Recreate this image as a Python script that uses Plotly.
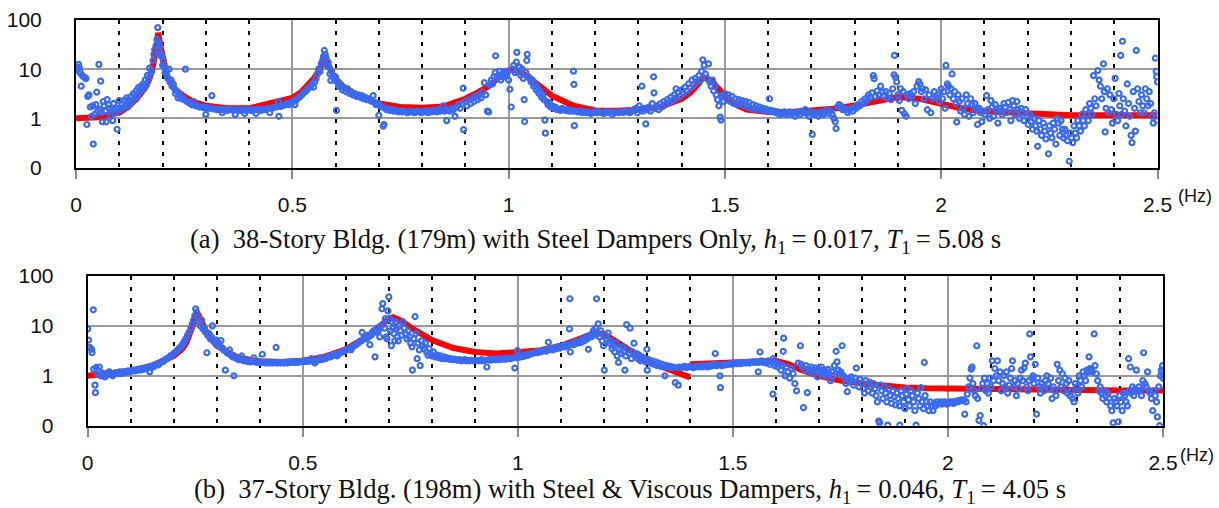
import plotly.graph_objects as go

# ---------------- Panel (a) : 38-story, steel dampers only ----------------
red_a_freq = [0, 0.05, 0.1, 0.12, 0.14, 0.15, 0.16, 0.17, 0.175, 0.18, 0.185, 0.19, 0.195, 0.2, 0.205, 0.21,
              0.22, 0.23, 0.25, 0.27, 0.3, 0.35, 0.4, 0.45, 0.5, 0.52, 0.54, 0.55, 0.56, 0.565, 0.57, 0.575,
              0.58, 0.585, 0.59, 0.6, 0.62, 0.65, 0.7, 0.75, 0.8, 0.85, 0.88, 0.9, 0.93, 0.95, 0.97, 0.99,
              1.0, 1.01, 1.02, 1.03, 1.05, 1.07, 1.1, 1.15, 1.2, 1.25, 1.3, 1.35, 1.38, 1.4, 1.42, 1.43,
              1.44, 1.45, 1.46, 1.47, 1.48, 1.5, 1.53, 1.55, 1.6, 1.65, 1.7, 1.75, 1.8, 1.85, 1.9, 1.95,
              2.0, 2.05, 2.1, 2.2, 2.3, 2.4, 2.5]
red_a_amp = [1.0, 1.05, 1.3, 1.7, 2.5, 3.2, 4.2, 6.5, 9, 14, 25, 55, 30, 18, 11, 7.5,
             5, 3.8, 2.8, 2.2, 1.8, 1.6, 1.6, 2.0, 2.6, 3.4, 5.0, 6.5, 9, 11, 14, 16,
             14, 11, 9, 6.4, 4.2, 2.9, 2.0, 1.7, 1.65, 1.75, 2.1, 2.5, 3.4, 4.3, 6, 8.5,
             9.4, 10, 9.5, 8.5, 6.4, 4.5, 2.9, 1.8, 1.45, 1.42, 1.5, 1.7, 2.1, 2.5, 3.3, 4.0,
             5.2, 6.9, 6.5, 5.9, 4.5, 2.9, 1.8, 1.5, 1.35, 1.35, 1.45, 1.57, 1.83, 2.3, 2.7, 2.5,
             2.0, 1.57, 1.4, 1.24, 1.15, 1.15, 1.15]

blue_a_low = [(0.000,10),(0.002,9.5),(0.004,11),(0.006,12.5),(0.008,10.5),(0.010,8.5),(0.012,4.5),(0.014,7.5),
 (0.017,7),(0.020,6.8),(0.023,6.5),(0.025,0.75),(0.027,2.8),(0.030,3.0),(0.033,1.7),(0.036,1.1),(0.039,1.8),
 (0.040,0.3),(0.043,1.2),(0.046,1.9),(0.048,3.4),(0.050,1.4),(0.053,12.5),(0.055,1.5),(0.057,5.7),(0.059,1.3),
 (0.061,0.85),(0.063,2.2),(0.065,1.8),(0.068,1.4),(0.070,0.85),(0.072,2.4),(0.075,1.9),(0.077,1.6),(0.080,1.1),
 (0.082,1.4),(0.085,0.9),(0.087,2.0),(0.090,1.5),(0.092,1.3),(0.095,0.6),(0.097,1.6),(0.100,2.3),(0.103,1.5),
 (0.106,2.0),(0.108,1.6),(0.111,2.3),(0.114,1.8),(0.117,2.6),(0.120,1.7),(0.122,2.4),(0.125,2.0),(0.128,2.8),
 (0.130,2.2),(0.133,3.2),(0.136,2.6),(0.139,3.6),(0.141,2.8),(0.144,4.2),(0.147,3.4),(0.150,4.5),(0.152,3.8),
 (0.155,5.0),(0.158,4.3),(0.160,6.0),(0.163,4.8),(0.165,7.5),(0.168,6.5),(0.170,10.5),(0.172,8),(0.175,9),
 (0.178,15),(0.180,20),(0.182,25),(0.185,30),(0.187,40),(0.189,70),(0.190,35),(0.192,25),(0.194,30),(0.196,20),
 (0.198,18),(0.200,12),(0.202,15),(0.204,11),(0.206,8.5),(0.208,9),(0.210,7.5),(0.212,6.5),(0.215,10),(0.217,5.5),
 (0.220,6),(0.222,4.5),(0.225,5),(0.228,4.0),(0.230,3.2),(0.233,3.6),(0.236,2.6),(0.238,3.2),(0.241,2.8),
 (0.244,2.5),(0.247,2.6),(0.250,2.4),(0.253,10),(0.256,2.2),(0.260,2.1),(0.264,2.0),(0.268,1.9),(0.272,2.2),
 (0.276,1.8),(0.280,1.8),(0.285,1.7),(0.290,1.7),(0.295,1.65),(0.300,1.2),(0.302,1.65),(0.306,1.6),(0.310,1.6),
 (0.314,2.9),(0.318,1.55),(0.322,1.55),(0.326,1.5),(0.330,1.55),(0.335,1.5),(0.338,1.3),(0.342,1.5),(0.346,1.5),
 (0.350,1.45),(0.355,1.5),(0.360,1.5),(0.364,1.45),(0.368,1.2),(0.372,1.5),(0.376,1.45),(0.380,1.45),(0.385,1.5),
 (0.390,1.25),(0.393,1.45),(0.397,1.5),(0.400,1.5),(0.404,1.45),(0.408,1.45),(0.412,1.5),(0.416,1.25),(0.420,1.5),
 (0.424,1.5),(0.428,1.45),(0.432,1.55),(0.436,1.5),(0.440,1.55),(0.444,1.6),(0.448,1.3),(0.452,1.6),(0.456,1.65),
 (0.460,1.7),(0.464,1.7),(0.468,2.2),(0.469,1.1),(0.472,1.75),(0.476,1.8),(0.480,1.85),(0.484,1.9),(0.488,2.0),
 (0.492,1.9),(0.496,2.1),(0.500,2.1)]

blue_a_mid = [(0.503,2.3),(0.506,1.9),(0.510,2.4),(0.514,2.6),(0.518,2.8),(0.522,3.0),(0.526,3.3),(0.530,3.5),
 (0.534,3.8),(0.538,4.2),(0.542,4.5),(0.546,5.0),(0.549,4.3),(0.552,5.5),(0.555,6.5),(0.558,8),(0.561,10),(0.564,9),
 (0.567,13),(0.570,15),(0.572,18),(0.574,24),(0.576,20),(0.578,17),(0.580,12),(0.583,14),(0.585,11),(0.587,8),
 (0.589,5.9),(0.591,9),(0.594,7),(0.597,6),(0.600,7),(0.602,1.45),(0.604,5.5),(0.607,4.5),(0.610,5),(0.613,4.5),
 (0.616,3.8),(0.620,4.2),(0.624,3.5),(0.628,4.0),(0.632,3.2),(0.636,3.5),(0.640,3.0),(0.644,3.2),(0.648,2.8),
 (0.652,3.0),(0.656,2.7),(0.660,2.9),(0.664,2.5),(0.668,2.7),(0.672,2.4),(0.676,2.5),(0.680,2.3),(0.684,2.2),
 (0.687,2.9),(0.690,2.1),(0.694,1.9),(0.698,2.0),(0.700,1.15),(0.703,1.8),(0.707,1.7),(0.710,0.69),(0.712,0.75),
 (0.714,1.6),(0.718,1.5),(0.722,1.55),(0.726,1.45),(0.730,1.5),(0.735,1.4),(0.740,1.45),(0.745,1.35),
 (0.750,1.4),(0.754,1.35),(0.758,1.4),(0.762,1.35),(0.766,1.3),(0.770,1.35),(0.774,1.4),(0.778,1.35),(0.782,1.3),
 (0.786,1.35),(0.790,1.4),(0.794,1.35),(0.798,1.3),(0.802,1.35),(0.806,1.4),(0.810,1.35),(0.814,1.3),(0.818,1.4),
 (0.822,1.35),(0.826,1.45),(0.830,1.4),(0.834,1.35),(0.838,1.5),(0.842,1.4),(0.846,1.45),(0.849,1.8),(0.852,1.4),
 (0.857,0.9),(0.860,1.5),(0.864,1.4),(0.868,1.6),(0.872,1.5),(0.876,1.1),(0.880,1.7),(0.884,1.9),(0.888,1.6),
 (0.892,2.0),(0.895,4.1),(0.896,0.59),(0.900,2.2),(0.904,1.8),(0.908,2.4),(0.912,2.0),(0.916,2.6),(0.920,2.2),
 (0.924,2.8),(0.928,2.4),(0.932,3.0),(0.936,2.6),(0.940,3.4),(0.944,5.3),(0.947,3.0),(0.951,1.4),(0.954,1.35),
 (0.957,4.8),(0.960,6),(0.963,5),(0.966,7),(0.969,8.5),(0.970,18.7),(0.973,6.5),(0.976,7.5),(0.979,9),(0.982,6),
 (0.985,8),(0.988,7),(0.991,9),(0.994,7.5),(0.997,8.5),(1.000,6),(1.003,3.9),(1.006,1.7),(1.009,10),(1.012,12),
 (1.015,8.5),(1.018,14),(1.019,22),(1.022,9),(1.025,11),(1.028,7.5),(1.031,10),(1.034,6.5),(1.036,2.4),(1.037,0.86),
 (1.040,8.5),(1.042,15),(1.043,20),(1.046,7),(1.049,6.5),(1.052,5.5),(1.055,6),(1.058,4.5),(1.061,5),(1.064,3.8),
 (1.067,4.2),(1.070,3.2),(1.073,3.5),(1.076,2.7),(1.079,3.0),(1.082,2.4),(1.084,0.92),(1.085,0.5),(1.088,2.2),
 (1.091,1.9),(1.094,2.1),(1.097,1.7),(1.100,1.8),(1.104,1.6),(1.108,1.7),(1.112,1.5),(1.116,1.55),(1.120,1.45),
 (1.124,1.6),(1.128,1.5),(1.132,1.45),(1.136,1.5),(1.140,1.4),(1.144,1.45),(1.148,1.4),(1.150,9.1),(1.151,4.9),
 (1.152,0.71),(1.155,1.4),(1.160,1.35),(1.165,1.4),(1.170,1.3),(1.175,1.35),(1.180,1.3),(1.185,1.35),(1.190,1.25),
 (1.195,1.3),(1.200,1.35),(1.205,1.3),(1.210,1.35),(1.215,1.3),(1.220,1.25),(1.225,1.35),(1.230,1.3),(1.235,1.35),
 (1.240,1.2),(1.245,1.3),(1.250,1.35),(1.255,1.3),(1.260,1.35),(1.265,1.3),(1.270,1.4),(1.275,1.35),(1.280,1.3),
 (1.285,1.4),(1.290,1.5),(1.294,1.6),(1.298,1.3),(1.302,1.8),(1.305,1.5),(1.308,4.5),(1.311,1.4),(1.314,1.6),
 (1.317,0.77),(1.320,1.5),(1.324,1.7),(1.328,1.4),(1.332,2.0),(1.335,7),(1.336,3.3),(1.339,1.6),(1.343,1.8),
 (1.347,1.5),(1.351,2.0),(1.355,1.7),(1.359,2.2),(1.363,1.9),(1.367,2.4),(1.371,2.1),(1.375,2.7),(1.379,2.3),
 (1.383,3.0),(1.387,4.0),(1.388,2.6),(1.392,3.4),(1.396,2.8),(1.400,3.8),(1.404,3.2),(1.408,4.3),(1.412,3.6),
 (1.416,5.0),(1.420,4.2),(1.424,6.0),(1.428,4.8),(1.432,6.5),(1.436,5.5),(1.440,7.4),(1.443,6),(1.446,9),
 (1.449,15.5),(1.452,12),(1.455,8),(1.458,6.5),(1.462,12.8),(1.465,5.5),(1.468,4.5),(1.471,6),(1.474,3.6),
 (1.477,4.5),(1.480,3.0),(1.483,2.4),(1.486,1.8),(1.489,1.06),(1.491,0.92),(1.494,2.9),(1.497,2.2),(1.500,3.2),
 (1.504,2.5),(1.508,3.0),(1.512,2.2),(1.516,2.8),(1.520,2.0),(1.524,2.5),(1.528,1.9),(1.532,2.4),(1.536,2.0),
 (1.540,2.3),(1.544,1.8),(1.548,2.2),(1.552,1.7),(1.556,2.1),(1.560,1.6),(1.564,1.9),(1.568,1.55),(1.572,1.8),
 (1.576,1.5),(1.580,1.7),(1.584,1.5),(1.588,1.6),(1.592,1.45),(1.596,1.55),(1.600,1.4),(1.603,2.5),(1.606,1.45),
 (1.610,1.35),(1.614,1.4),(1.618,1.3),(1.622,1.35),(1.626,1.2),(1.630,1.3),(1.634,1.25),(1.638,1.35),(1.642,1.2),
 (1.646,1.3)]

blue_a_high = [(1.650,1.35),(1.654,1.2),(1.658,1.3),(1.662,1.1),(1.666,1.25),(1.670,1.35),(1.674,1.2),(1.678,1.4),
 (1.682,1.3),(1.686,1.5),(1.690,1.25),(1.694,1.1),(1.698,1.35),(1.702,0.47),(1.704,1.3),(1.708,1.2),(1.712,1.3),
 (1.716,1.1),(1.720,1.25),(1.724,1.35),(1.728,1.2),(1.732,1.3),(1.736,1.5),(1.740,1.25),(1.744,1.4),(1.748,1.2),
 (1.752,1.0),(1.755,0.85),(1.757,0.62),(1.760,1.7),(1.764,1.9),(1.768,1.8),(1.772,1.5),(1.776,1.6),(1.780,1.5),
 (1.784,1.3),(1.788,1.45),(1.792,1.6),(1.796,1.4),(1.800,1.7),(1.804,1.6),(1.808,1.9),(1.812,1.8),(1.816,2.2),
 (1.820,2.0),(1.824,2.5),(1.828,2.3),(1.832,3.0),(1.836,2.7),(1.840,3.3),(1.843,7.4),(1.845,6.4),(1.848,2.8),
 (1.852,3.6),(1.856,3.0),(1.860,4.5),(1.864,3.4),(1.868,2.8),(1.872,3.5),(1.876,2.6),(1.880,3.2),(1.884,2.4),
 (1.888,4.0),(1.891,7.7),(1.892,19),(1.894,6.9),(1.897,5.5),(1.900,3.0),(1.903,2.3),(1.906,4.0),(1.909,1.45),
 (1.912,3.5),(1.915,1.24),(1.919,1.1),(1.922,3.0),(1.925,2.5),(1.928,3.2),(1.932,2.8),(1.936,3.5),(1.940,2.0),
 (1.944,4.5),(1.948,5.6),(1.951,5.0),(1.954,3.5),(1.957,4.0),(1.960,2.5),(1.964,3.8),(1.968,1.5),(1.972,3.0),
 (1.976,1.3),(1.980,2.5),(1.984,3.5),(1.988,2.7),(1.992,3.0),(1.996,2.2),(2.000,4.0),(2.003,2.5),(2.006,3.5),
 (2.009,1.6),(2.011,11.9),(2.014,5.0),(2.017,4.5),(2.020,3.0),(2.023,4.0),(2.025,8),(2.028,2.5),(2.031,3.5),
 (2.034,2.0),(2.036,0.84),(2.039,3.0),(2.042,2.2),(2.045,1.4),(2.048,2.5),(2.051,1.6),(2.054,1.2),(2.058,3.0),
 (2.061,2.0),(2.064,1.1),(2.068,2.5),(2.071,1.9),(2.074,1.3),(2.078,2.0),(2.081,1.6),(2.084,0.75),(2.088,1.6),
 (2.091,1.3),(2.094,0.85),(2.098,1.4),(2.101,1.2),(2.105,2.9),(2.108,1.5),(2.112,1.0),(2.115,2.3),(2.118,1.7),
 (2.121,1.1),(2.125,1.9),(2.128,1.5),(2.131,0.8),(2.135,1.6),(2.138,1.4),(2.141,1.2),(2.145,2.0),(2.148,1.7),
 (2.151,1.3),(2.155,2.1),(2.158,1.5),(2.161,0.9),(2.165,2.3),(2.168,1.8),(2.171,1.2),(2.175,2.2),(2.178,1.5),
 (2.181,1.0),(2.185,1.6),(2.188,1.3),(2.191,0.9),(2.195,1.5),(2.198,1.1),(2.201,0.75),(2.205,1.2),(2.208,0.85),
 (2.211,0.6),(2.215,1.0),(2.218,0.7),(2.221,0.55),(2.223,0.27),(2.226,0.9),(2.229,0.6),(2.232,0.45),(2.236,0.8),
 (2.239,0.55),(2.242,0.38),(2.248,0.19),(2.250,0.7),(2.253,0.5),(2.256,0.4),(2.259,0.8),(2.262,0.6),(2.265,0.3),
 (2.268,1.0),(2.271,0.8),(2.274,0.45),(2.277,0.9),(2.280,0.6),(2.283,0.4),(2.286,0.6),(2.289,0.45),(2.292,0.35),
 (2.296,0.134),(2.298,0.5),(2.301,0.4),(2.304,0.32),(2.307,0.7),(2.310,0.5),(2.313,0.4),(2.316,0.9),(2.319,0.7),
 (2.322,0.55),(2.325,1.2),(2.328,0.9),(2.331,0.7),(2.334,1.5),(2.337,1.2),(2.340,0.9),(2.343,2.0),(2.346,1.6),
 (2.349,1.2),(2.352,7.4),(2.355,2.5),(2.358,1.8),(2.362,9.4),(2.365,6),(2.368,4.5),(2.371,2.5),(2.375,12.8),
 (2.377,3.5),(2.379,0.53),(2.381,1.6),(2.384,4.0),(2.387,1.3),(2.390,3.0),(2.393,1.5),(2.396,0.8),(2.399,2.5),
 (2.402,6.5),(2.405,1.2),(2.408,0.9),(2.411,3.2),(2.413,1.8),(2.415,19),(2.417,1.2),(2.419,37),(2.421,2.5),
 (2.424,1.4),(2.427,0.7),(2.430,5.0),(2.433,2.0),(2.436,1.1),(2.439,0.45),(2.441,0.32),(2.444,3.5),(2.447,1.6),
 (2.449,0.55),(2.451,24),(2.454,4.0),(2.457,2.2),(2.460,1.3),(2.463,3.0),(2.466,1.8),(2.469,1.3),(2.472,4.0),
 (2.475,2.5),(2.478,1.8),(2.481,3.5),(2.484,2.0),(2.487,1.1),(2.490,0.8),(2.493,1.3),(2.495,16.7),(2.497,9),
 (2.498,7),(2.499,0.9),(2.500,5.5)]

# ---------------- Panel (b) : 37-story, steel & viscous dampers ----------------
red_b_freq_1 = [0, 0.05, 0.1, 0.15, 0.2, 0.22, 0.23, 0.24, 0.25, 0.255, 0.26, 0.27, 0.28, 0.3, 0.35, 0.4, 0.45,
                0.5, 0.55, 0.6, 0.65, 0.68, 0.7, 0.71, 0.72, 0.73, 0.75, 0.8, 0.85, 0.9, 0.95, 1.0, 1.05,
                1.1, 1.15, 1.18, 1.2, 1.25, 1.3, 1.35, 1.4]
red_b_amp_1 = [1.0, 1.1, 1.26, 1.6, 2.5, 3.5, 4.8, 8, 14, 18, 15, 9, 6.4, 4, 2.3, 1.95, 1.9,
               2.0, 2.4, 3.4, 6.1, 10, 14, 15, 14, 12.5, 9.4, 5.2, 3.6, 3.0, 2.8, 2.9, 3.2,
               4.0, 5.6, 7.2, 6.9, 3.6, 2.0, 1.36, 0.93]
red_b_freq_2 = [1.4, 1.45, 1.5, 1.55, 1.6, 1.63, 1.66, 1.7, 1.75, 1.8, 1.85, 1.9, 1.95, 2.0, 2.1, 2.2, 2.3,
                2.4, 2.5]
red_b_amp_2 = [1.7, 1.8, 1.85, 1.9, 2.0, 1.7, 1.3, 1.0, 0.8, 0.7, 0.62, 0.58, 0.56, 0.55, 0.55, 0.52, 0.51,
               0.51, 0.51]

blue_b_low = [(0.000,8.7),(0.002,5.2),(0.005,3.7),(0.009,3.4),(0.010,2.9),(0.013,21),(0.014,1.36),(0.017,0.65),
 (0.018,0.46),(0.020,1.47),(0.024,1.08),(0.027,1.5),(0.030,1.0),(0.033,1.15),(0.036,1.05),(0.040,0.95),(0.043,1.1),
 (0.046,1.05),(0.050,1.2),(0.054,1.1),(0.058,1.0),(0.062,1.1),(0.066,1.15),(0.070,1.1),(0.074,1.2),(0.078,1.1),
 (0.082,1.2),(0.086,1.15),(0.090,1.2),(0.094,1.25),(0.098,1.2),(0.102,1.25),(0.106,1.3),(0.110,1.25),(0.114,1.3),
 (0.118,1.35),(0.122,1.3),(0.126,1.4),(0.130,1.35),(0.134,1.45),(0.138,1.4),(0.142,1.5),(0.144,1.2),(0.148,1.55),
 (0.152,1.5),(0.156,1.6),(0.160,1.7),(0.164,1.65),(0.168,1.8),(0.172,1.9),(0.176,1.95),(0.180,2.1),(0.184,2.2),
 (0.188,2.3),(0.192,2.5),(0.196,2.6),(0.200,2.8),(0.204,3.0),(0.208,3.2),(0.212,3.5),(0.216,3.8),(0.220,4.2),
 (0.224,4.8),(0.228,5.5),(0.232,6.5),(0.236,7.5),(0.240,9),(0.243,11),(0.246,13),(0.249,16),(0.251,22),(0.253,19),
 (0.256,15),(0.259,12),(0.262,10),(0.265,13),(0.268,8.7),(0.271,9),(0.274,7.5),(0.277,2.9),(0.279,6.5),(0.282,7),
 (0.285,5.5),(0.288,6),(0.290,10),(0.293,5),(0.296,4.6),(0.299,5.2),(0.302,4.2),(0.305,4.5),(0.308,3.8),(0.310,5.1),
 (0.313,3.6),(0.316,3.3),(0.320,1.3),(0.322,3.0),(0.326,2.8),(0.330,3.3),(0.333,2.6),(0.337,2.4),(0.340,1.0),
 (0.343,2.3),(0.347,2.2),(0.351,2.1),(0.355,2.15),(0.358,2.5),(0.362,2.0),(0.366,2.05),(0.370,1.95),(0.374,2.0),
 (0.378,1.9),(0.382,1.95),(0.386,2.3),(0.390,1.9),(0.394,1.85),(0.398,1.9),(0.402,1.85),(0.406,2.7),(0.410,1.85),
 (0.414,1.8),(0.418,1.85),(0.422,1.8),(0.426,1.85),(0.430,1.8),(0.434,1.85),(0.438,3.7),(0.440,1.8),(0.444,1.85),
 (0.448,1.8),(0.452,1.85),(0.456,1.8),(0.460,1.85),(0.464,1.8),(0.468,1.9),(0.472,1.85),(0.476,1.9),(0.480,1.85),
 (0.484,1.9),(0.488,1.85),(0.492,1.9),(0.496,1.95),(0.500,1.9),(0.504,1.95),(0.508,2.0),(0.512,1.95),(0.516,2.0),
 (0.520,2.2),(0.524,1.95),(0.528,1.8),(0.532,2.0),(0.536,2.1),(0.540,2.3),(0.544,2.1),(0.548,2.2),(0.552,2.2),
 (0.556,2.3),(0.560,2.5),(0.564,2.4),(0.568,2.5),(0.572,2.6),(0.576,2.7),(0.580,2.5),(0.584,2.8),(0.588,2.9),
 (0.592,3.0),(0.596,3.1),(0.600,3.3),(0.604,3.4),(0.608,3.5),(0.612,3.3),(0.616,3.8),(0.620,4.0),(0.624,4.2),
 (0.628,4.5),(0.632,4.8),(0.636,5.0),(0.638,7.4),(0.641,5.5),(0.644,6.0),(0.647,5.5),(0.650,6.5),(0.653,6.0),
 (0.656,4.2),(0.659,6.5),(0.662,7.5),(0.665,8),(0.668,2.4),(0.670,7.5),(0.673,9),(0.676,8),(0.679,6),(0.682,10),
 (0.684,22),(0.686,28),(0.688,11),(0.690,9),(0.692,14),(0.694,6),(0.696,5.5),(0.698,20),(0.700,38),(0.702,14),
 (0.704,8),(0.706,4.0),(0.708,12),(0.710,9),(0.712,7),(0.714,5),(0.716,12),(0.718,9),(0.720,6),(0.722,5)]

blue_b_mid = [(0.724,10),(0.727,8),(0.730,6.5),(0.733,12),(0.736,9),(0.739,7),(0.742,5.5),(0.745,8),(0.748,6),
 (0.751,4.5),(0.754,3.8),(0.755,1.3),(0.758,5.5),(0.761,15.4),(0.763,7),(0.766,2.2),(0.768,4.5),(0.771,3.3),
 (0.773,1.6),(0.776,5.0),(0.779,4.0),(0.782,3.5),(0.785,4.5),(0.788,3.0),(0.791,2.6),(0.794,3.5),(0.797,2.8),
 (0.800,2.5),(0.804,3.0),(0.808,2.4),(0.812,2.6),(0.816,2.3),(0.820,2.5),(0.824,2.2),(0.828,2.4),(0.832,2.2),
 (0.836,2.3),(0.840,2.15),(0.844,2.2),(0.848,2.1),(0.852,2.15),(0.856,2.1),(0.860,2.05),(0.864,2.1),(0.868,2.0),
 (0.872,2.05),(0.876,2.1),(0.880,2.0),(0.884,2.05),(0.888,2.0),(0.892,2.05),(0.896,2.0),(0.900,2.05),(0.904,2.0),
 (0.908,2.05),(0.912,2.0),(0.916,2.1),(0.920,2.0),(0.924,2.05),(0.928,1.5),(0.932,2.1),(0.936,2.05),(0.940,2.1),
 (0.944,2.15),(0.948,2.1),(0.952,2.15),(0.956,2.1),(0.960,2.2),(0.964,2.15),(0.968,2.2),(0.972,2.15),(0.976,2.2),
 (0.980,2.25),(0.984,2.2),(0.988,2.3),(0.993,1.43),(0.996,2.3),(0.999,3.2),(1.002,2.35),(1.006,2.4),(1.010,2.5),
 (1.014,2.45),(1.018,2.6),(1.022,2.55),(1.026,2.7),(1.030,2.75),(1.034,2.8),(1.038,2.9),(1.042,3.0),(1.046,2.9),
 (1.050,3.1),(1.054,3.0),(1.058,3.2),(1.062,3.3),(1.066,3.1),(1.071,4.7),(1.074,3.4),(1.078,3.5),(1.082,3.3),
 (1.086,3.6),(1.090,3.5),(1.094,3.8),(1.098,3.6),(1.102,3.9),(1.106,4.0),(1.110,3.8),(1.114,4.2),(1.118,4.0),
 (1.120,8.7),(1.121,35),(1.122,3.0),(1.126,4.5),(1.130,4.2),(1.134,4.8),(1.138,4.5),(1.142,5.0),(1.146,4.6),
 (1.150,5.5),(1.154,5.0),(1.158,6.0),(1.161,5.5),(1.164,3.4),(1.167,6.5),(1.170,6.0),(1.173,7),(1.176,8.1),
 (1.179,6.5),(1.181,9),(1.183,35),(1.185,7),(1.187,11),(1.190,6),(1.193,8),(1.196,5),(1.199,4),(1.201,1.3),
 (1.204,6.5),(1.207,5.5),(1.210,7.2),(1.213,4.5),(1.216,5.0),(1.219,3.5),(1.222,4.0),(1.225,3.0),(1.228,4.5),
 (1.231,2.5),(1.234,1.85),(1.237,3.5),(1.240,2.8),(1.243,3.8),(1.246,3.0),(1.249,1.3),(1.251,2.5),(1.253,10.6),
 (1.256,3.3),(1.259,2.8),(1.261,9),(1.264,2.2),(1.267,3.0),(1.270,4.5),(1.273,2.5),(1.276,2.8),(1.279,2.2),
 (1.282,2.6),(1.285,2.0),(1.288,2.4),(1.291,2.1),(1.294,2.3),(1.297,1.9),(1.300,3.4),(1.301,1.3),(1.304,2.1),
 (1.308,1.8),(1.312,2.0),(1.316,1.7),(1.320,1.9),(1.324,1.6),(1.328,1.8),(1.332,1.55),(1.336,1.7),(1.340,1.5),
 (1.342,1.0),(1.346,1.6),(1.350,1.5),(1.354,1.55),(1.358,1.45),(1.362,1.5),(1.366,0.73),(1.370,1.45),(1.373,0.65),
 (1.376,1.5),(1.380,1.45),(1.384,1.5),(1.388,1.55),(1.392,1.45),(1.396,1.5),(1.400,1.55),(1.404,1.5),(1.408,1.45),
 (1.412,1.5),(1.416,1.55),(1.420,1.5),(1.424,1.55),(1.428,1.5),(1.432,1.6),(1.436,1.55),(1.440,1.5),(1.444,1.6),
 (1.448,1.55),(1.452,1.6),(1.456,1.7),(1.459,2.8),(1.462,1.6),(1.466,1.65),(1.470,1.0),(1.471,0.58),(1.474,1.6),
 (1.478,1.7),(1.482,1.65),(1.486,1.7),(1.490,1.7),(1.494,1.75),(1.498,1.7),(1.502,1.75),(1.506,1.8),(1.510,1.75),
 (1.514,1.8),(1.518,1.75),(1.522,1.8),(1.526,1.85),(1.530,1.8),(1.534,1.85),(1.538,1.8),(1.542,1.85),(1.546,1.9),
 (1.550,1.85),(1.554,1.9),(1.558,1.85),(1.559,1.2),(1.562,1.9),(1.563,3.0),(1.566,2.0),(1.570,1.85),(1.574,1.9),
 (1.578,1.8),(1.582,2.0),(1.586,1.7),(1.590,1.9),(1.593,0.43),(1.594,2.2),(1.597,1.6),(1.600,1.8),(1.604,1.5),
 (1.608,1.7),(1.612,1.3),(1.615,1.6),(1.617,3.1),(1.618,5.7),(1.621,1.0),(1.624,1.5),(1.628,1.2),(1.632,0.9),
 (1.636,1.4),(1.640,1.1),(1.644,0.7),(1.648,0.5),(1.652,1.8)]

blue_b_high = [(1.657,4.0),(1.659,1.7),(1.662,1.5),(1.664,0.23),(1.667,1.3),(1.670,1.6),(1.673,0.46),(1.676,1.4),
 (1.679,1.2),(1.682,1.5),(1.685,1.3),(1.688,1.1),(1.691,1.45),(1.694,1.3),(1.697,0.95),(1.700,1.4),(1.703,1.2),
 (1.706,1.5),(1.709,1.1),(1.712,1.3),(1.715,1.0),(1.718,1.2),(1.721,1.35),(1.724,1.1),(1.727,0.8),(1.730,1.2),
 (1.733,1.0),(1.736,1.6),(1.740,3.1),(1.742,1.9),(1.745,1.3),(1.748,1.1),(1.751,1.2),(1.754,4.0),(1.757,1.0),
 (1.760,0.9),(1.763,0.7),(1.766,0.48),(1.769,0.85),(1.772,0.75),(1.775,0.95),(1.778,0.8),(1.781,0.65),(1.784,0.9),
 (1.787,1.43),(1.790,0.75),(1.793,0.6),(1.796,0.85),(1.800,0.7),(1.803,0.55),(1.806,0.45),(1.809,0.8),(1.812,0.65),
 (1.815,0.5),(1.818,0.75),(1.821,0.6),(1.824,0.45),(1.827,0.7),(1.830,0.55),(1.833,0.4),(1.836,0.3),(1.839,0.124),
 (1.841,0.114),(1.843,0.65),(1.846,0.5),(1.849,0.35),(1.852,0.6),(1.855,0.45),(1.858,0.3),(1.860,0.103),(1.863,0.55),
 (1.866,0.4),(1.869,0.28),(1.872,0.5),(1.875,0.38),(1.878,0.26),(1.881,0.45),(1.884,0.35),(1.887,0.25),(1.888,0.103),
 (1.891,0.5),(1.894,0.4),(1.897,0.3),(1.900,0.22),(1.903,0.43),(1.905,0.55),(1.908,0.33),(1.911,0.25),(1.914,0.5),
 (1.917,0.4),(1.920,0.3),(1.923,0.2),(1.926,0.103),(1.929,0.45),(1.932,0.35),(1.935,0.25),(1.937,0.58),(1.940,0.3),
 (1.943,0.22),(1.945,1.85),(1.947,0.4),(1.950,0.3),(1.953,0.25),(1.956,0.2),(1.959,0.3),(1.962,0.25),(1.965,0.2),
 (1.968,0.28),(1.971,0.25),(1.974,0.3),(1.977,0.27),(1.980,0.28),(1.983,0.3),(1.986,0.27),(1.989,0.28),(1.992,0.3),
 (1.995,0.28),(1.998,0.27),(2.001,0.28),(2.004,0.3),(2.007,0.29),(2.010,0.3),(2.013,0.28),(2.016,0.3),(2.019,0.31),
 (2.022,0.3),(2.025,0.32),(2.028,0.31),(2.031,0.33),(2.034,0.32),(2.037,0.33),(2.039,0.17),(2.042,0.3),(2.045,0.43),
 (2.048,0.6),(2.051,0.9),(2.054,1.36),(2.056,1.5),(2.058,0.7),(2.061,0.5),(2.064,0.4),(2.067,4.0),(2.069,0.35),
 (2.072,0.128),(2.075,0.16),(2.078,0.55),(2.081,0.7),(2.083,0.1),(2.085,0.9),(2.088,0.5),(2.091,0.7),(2.094,0.45),
 (2.097,0.9),(2.100,0.6),(2.103,2.0),(2.106,0.8),(2.109,1.4),(2.112,1.0),(2.115,2.0),(2.118,0.8),(2.121,1.2),
 (2.124,0.5),(2.127,0.7),(2.130,1.0),(2.133,0.6),(2.136,1.2),(2.139,0.45),(2.142,0.65),(2.145,0.9),(2.148,1.4),
 (2.150,2.0),(2.153,0.6),(2.156,0.8),(2.159,0.4),(2.162,0.7),(2.165,0.55),(2.168,0.9),(2.171,1.3),(2.174,0.8),
 (2.177,1.43),(2.180,1.8),(2.183,0.6),(2.186,0.5),(2.189,0.8),(2.190,6.9),(2.192,2.4),(2.195,0.9),(2.198,1.0),
 (2.200,0.7),(2.203,1.7),(2.206,0.17),(2.209,0.9),(2.212,0.6),(2.215,0.45),(2.218,0.7),(2.221,0.6),(2.224,0.5),
 (2.227,0.8),(2.230,1.0),(2.233,0.7),(2.236,0.55),(2.239,0.9),(2.242,0.35),(2.245,0.6),(2.248,0.5),(2.251,0.4),
 (2.254,1.7),(2.257,0.8),(2.260,1.3),(2.263,0.6),(2.266,1.1),(2.269,0.5),(2.272,0.9),(2.275,0.7),(2.278,0.45),
 (2.281,0.8),(2.284,0.4),(2.287,0.5),(2.290,0.35),(2.293,0.3),(2.296,0.7),(2.299,0.6),(2.302,0.45),(2.305,1.0),
 (2.308,0.8),(2.311,0.6),(2.314,1.2),(2.317,1.0),(2.320,0.8),(2.323,1.3),(2.326,1.2),(2.328,2.4),(2.330,1.4),
 (2.333,1.3),(2.336,1.2),(2.340,6.9),(2.342,1.6),(2.345,1.1),(2.348,0.8),(2.351,0.5),(2.354,0.6),(2.357,0.45),
 (2.360,0.35),(2.363,0.5),(2.366,0.4),(2.369,0.3),(2.372,0.45),(2.375,0.35),(2.378,0.25),(2.381,0.2),(2.384,0.114),
 (2.387,0.35),(2.390,0.3),(2.393,0.25),(2.396,0.12),(2.399,0.4),(2.402,0.3),(2.405,0.2),(2.408,0.45),(2.411,0.4),
 (2.414,0.3),(2.417,0.25),(2.420,2.2),(2.422,0.5),(2.424,1.5),(2.426,0.45),(2.429,0.6),(2.432,0.4),(2.435,0.55),
 (2.438,1.3),(2.441,0.5),(2.444,0.6),(2.447,0.5),(2.450,0.4),(2.453,0.8),(2.455,2.9),(2.458,0.7),(2.461,0.6),
 (2.464,1.2),(2.467,0.5),(2.470,0.45),(2.473,0.35),(2.476,0.2),(2.479,0.5),(2.482,0.4),(2.485,0.3),(2.487,0.15),
 (2.490,0.6),(2.492,0.1),(2.494,1.0),(2.496,1.3),(2.498,1.2),(2.499,1.6),(2.500,0.9)]

y_tick_vals = [0.1, 1, 10, 100]
y_tick_text = ["0", "1", "10", "100"]

caption_a = ("(a)\u00a0 38-Story Bldg. (179m) with Steel Dampers Only, "
             "<i>h</i><sub>1</sub>\u2009= 0.017, <i>T</i><sub>1</sub>\u2009= 5.08 s")
caption_b = ("(b)\u00a0 37-Story Bldg. (198m) with Steel &amp; Viscous Dampers, "
             "<i>h</i><sub>1</sub>\u2009= 0.046, <i>T</i><sub>1</sub>\u2009= 4.05 s")

RED = "#ff0000"
BLUE = "#3a6af2"

def unzip(pairs):
    return [p[0] for p in pairs], [p[1] for p in pairs]

fig = go.Figure()

# panel (a)
fig.add_trace(go.Scatter(x=red_a_freq, y=red_a_amp, mode="lines",
                         line=dict(color=RED, width=6), xaxis="x", yaxis="y", showlegend=False))
for seg in (blue_a_low, blue_a_mid, blue_a_high):
    fx, fy = unzip(seg)
    fig.add_trace(go.Scatter(x=fx, y=fy, mode="markers", xaxis="x", yaxis="y", showlegend=False,
                             marker=dict(symbol="circle-open", size=5, color=BLUE, line=dict(width=2.2, color=BLUE))))

# panel (b)
fig.add_trace(go.Scatter(x=red_b_freq_1, y=red_b_amp_1, mode="lines",
                         line=dict(color=RED, width=6), xaxis="x2", yaxis="y2", showlegend=False))
fig.add_trace(go.Scatter(x=red_b_freq_2, y=red_b_amp_2, mode="lines",
                         line=dict(color=RED, width=6), xaxis="x2", yaxis="y2", showlegend=False))
for seg in (blue_b_low, blue_b_mid, blue_b_high):
    fx, fy = unzip(seg)
    fig.add_trace(go.Scatter(x=fx, y=fy, mode="markers", xaxis="x2", yaxis="y2", showlegend=False,
                             marker=dict(symbol="circle-open", size=5, color=BLUE, line=dict(width=2.2, color=BLUE))))

W, H = 1219, 508
TICKFONT = dict(family="Liberation Sans, Arial, sans-serif", size=21, color="#111")

def xaxis_cfg(left, right, anchor):
    return dict(domain=[left / W, right / W], anchor=anchor, range=[0, 2.5],
                tickmode="linear", tick0=0, dtick=0.5,
                ticks="outside", ticklen=9, tickwidth=2, tickcolor="#8a8a8a",
                showgrid=True, gridcolor="#9a9a9a", gridwidth=2, zeroline=False,
                minor=dict(tickmode="linear", tick0=0, dtick=0.1, showgrid=True, gridcolor="#000000",
                           gridwidth=2, griddash="4px,7px", ticks=""),
                showline=True, linecolor="#000", linewidth=2, mirror=True,
                tickfont=TICKFONT, ticklabelstandoff=8, automargin=False, fixedrange=True)

def yaxis_cfg(top, bottom, anchor):
    return dict(domain=[1 - bottom / H, 1 - top / H], anchor=anchor, type="log", range=[-1, 2],
                tickmode="array", tickvals=y_tick_vals, ticktext=y_tick_text, ticks="",
                showgrid=True, gridcolor="#9a9a9a", gridwidth=2, zeroline=False,
                showline=True, linecolor="#000", linewidth=2, mirror=True,
                tickfont=TICKFONT, ticklabelstandoff=28, automargin=False, fixedrange=True)

CAPFONT = dict(family="Liberation Serif, Times New Roman, serif", size=26.6, color="#111")
HZFONT = dict(family="Liberation Sans, Arial, sans-serif", size=18, color="#111")

fig.update_layout(
    width=W, height=H, margin=dict(l=0, r=0, t=0, b=0),
    paper_bgcolor="white", plot_bgcolor="white",
    xaxis=xaxis_cfg(76, 1157.5, "y"),
    yaxis=yaxis_cfg(20, 167.5, "x"),
    xaxis2=xaxis_cfg(87.7, 1163, "y2"),
    yaxis2=yaxis_cfg(276, 425.7, "x2"),
    annotations=[
        dict(text="(Hz)", x=1195 / W, y=1 - 196 / H, xref="paper", yref="paper", showarrow=False,
             xanchor="center", yanchor="middle", font=HZFONT),
        dict(text="(Hz)", x=1197 / W, y=1 - 455 / H, xref="paper", yref="paper", showarrow=False,
             xanchor="center", yanchor="middle", font=HZFONT),
        dict(text=caption_a, x=595 / W, y=1 - 241 / H, xref="paper", yref="paper", showarrow=False,
             xanchor="center", yanchor="middle", font=CAPFONT),
        dict(text=caption_b, x=630 / W, y=1 - 491 / H, xref="paper", yref="paper", showarrow=False,
             xanchor="center", yanchor="middle", font=CAPFONT),
    ],
)

fig.write_html("out.html")
